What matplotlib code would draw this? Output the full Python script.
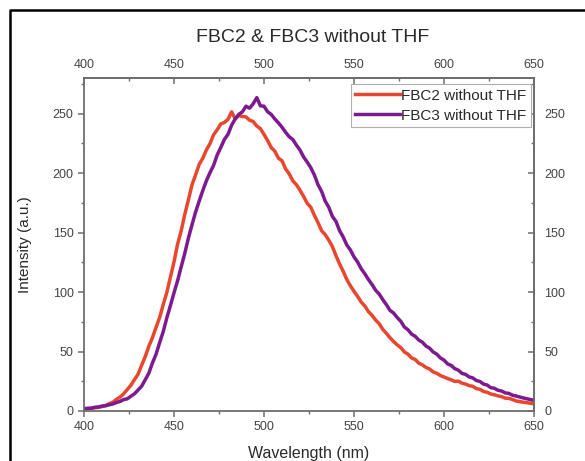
import numpy as np
import matplotlib
matplotlib.use('Agg')
from matplotlib import pyplot as plt
from matplotlib.lines import Line2D

plt.rcParams['font.family'] = ['Liberation Sans', 'DejaVu Sans']

# wavelength grid (nm), 2 nm step
wavelength = np.arange(400, 651, 2)

fbc2 = [1.5, 1.9, 2.0, 2.7, 3.0, 3.8, 4.6, 6.2, 7.3, 9.8,
        11.6, 14.4, 18.0, 21.5, 26.3, 30.8, 38.4, 45.6, 54.3, 61.6,
        70.2, 78.5, 89.4, 99.6, 112.5, 125.4, 140.3, 151.6, 165.4, 177.5,
        190.2, 198.6, 207.4, 212.5, 219.6, 224.8, 232.3, 236.5, 241.4, 242.6,
        245.3, 251.5, 245.6, 248.4, 247.6, 247.3, 244.5, 243.4, 239.6, 237.4,
        232.6, 227.4, 221.6, 218.5, 212.6, 210.4, 203.6, 199.4, 193.5, 190.3,
        185.6, 180.4, 174.6, 171.3, 164.5, 158.4, 151.6, 148.3, 143.6, 138.2,
        130.5, 123.6, 117.4, 110.6, 105.3, 100.6, 96.4, 91.6, 88.3, 83.6,
        80.4, 76.5, 73.4, 68.6, 65.3, 61.6, 58.4, 55.6, 53.3, 49.6,
        47.8, 44.6, 43.3, 40.2, 38.8, 36.6, 35.3, 32.8, 31.7, 29.8,
        28.6, 27.3, 26.2, 24.8, 25.1, 23.4, 22.6, 21.3, 20.7, 18.8,
        18.2, 16.4, 15.7, 14.3, 13.6, 12.7, 12.1, 10.8, 10.6, 9.7,
        8.4, 7.9, 7.4, 7.0, 6.5, 6.0]

fbc3 = [2.0, 2.3, 2.4, 3.1, 3.4, 4.1, 4.4, 5.2, 5.9, 7.1,
        8.0, 9.6, 10.2, 12.3, 14.4, 17.6, 20.8, 26.2, 31.7, 40.3,
        47.6, 57.4, 66.6, 78.3, 88.6, 99.4, 109.6, 121.3, 132.6, 145.4,
        156.6, 167.3, 176.5, 185.4, 193.6, 200.4, 206.6, 215.3, 221.6, 228.4,
        232.6, 240.3, 245.6, 249.4, 251.6, 256.3, 254.6, 258.4, 263.5, 256.6,
        256.3, 251.6, 249.4, 245.6, 242.3, 238.6, 234.4, 230.6, 228.3, 223.6,
        219.4, 213.6, 209.3, 204.6, 198.4, 190.3, 184.6, 176.5, 171.3, 163.6,
        159.4, 151.6, 146.3, 139.6, 135.4, 129.6, 125.3, 119.6, 115.4, 110.6,
        106.4, 101.6, 98.3, 93.6, 89.4, 84.6, 82.3, 78.6, 75.4, 70.6,
        68.3, 64.6, 62.8, 59.6, 57.8, 54.6, 52.8, 49.6, 47.8, 44.6,
        42.8, 39.6, 38.3, 35.6, 34.3, 31.6, 30.8, 28.6, 27.8, 25.6,
        24.8, 22.6, 21.8, 19.6, 19.1, 17.4, 16.8, 15.2, 14.8, 13.3,
        12.6, 11.8, 11.0, 10.3, 9.6, 9.0]

x_major = [400, 450, 500, 550, 600, 650]
x_minor = [425, 475, 525, 575, 625]
y_major = [0, 50, 100, 150, 200, 250]
y_minor = [25, 75, 125, 175, 225, 275]

fig = plt.figure(figsize=(5.85, 4.61), dpi=100)
ax = fig.add_axes([0.1436, 0.1085, 0.7692, 0.7223])

ax.plot(wavelength, fbc2, color='#e8472e', lw=2.5, label='FBC2 without THF')
ax.plot(wavelength, fbc3, color='#7d1a8f', lw=2.5, label='FBC3 without THF')

ax.set_xlim(400, 650)
ax.set_ylim(0, 280)
ax.set_xticks(x_major)
ax.set_xticks(x_minor, minor=True)
ax.set_yticks(y_major)
ax.set_yticks(y_minor, minor=True)

frame = '#6e6e6e'
lab = '#444444'
fs_tick = 9

for s in ax.spines.values():
    s.set_color(frame)
    s.set_linewidth(1.3)

ax.tick_params(which='both', direction='out', color=frame, labelcolor=lab,
               labelsize=fs_tick, top=False, right=False)
ax.tick_params(which='major', length=4.5, width=1.1, pad=3)
ax.tick_params(which='minor', length=2.5, width=1.0)

top = ax.secondary_xaxis('top')
top.set_xticks(x_major)
top.set_xticks(x_minor, minor=True)
top.tick_params(which='both', direction='in', color=frame, labelcolor=lab,
                labelsize=fs_tick, pad=5)
top.tick_params(which='major', length=4.5, width=1.1)
top.tick_params(which='minor', length=2.5, width=1.0)
top.spines['top'].set_color(frame)
top.spines['top'].set_linewidth(1.3)

right = ax.secondary_yaxis('right')
right.set_yticks(y_major)
right.set_yticks(y_minor, minor=True)
right.tick_params(which='both', direction='in', color=frame, labelcolor=lab,
                  labelsize=fs_tick, pad=7.5)
right.tick_params(which='major', length=4.5, width=1.1)
right.tick_params(which='minor', length=2.5, width=1.0)
right.spines['right'].set_color(frame)
right.spines['right'].set_linewidth(1.3)

ax.set_xlabel('Wavelength (nm)', fontsize=11.5, color='#2a2a2a', labelpad=9)
ax.set_ylabel('Intensity (a.u.)', fontsize=11, color='#2a2a2a', labelpad=15)
fig.text(0.535, 0.918, 'FBC2 & FBC3 without THF', ha='center', va='center',
         fontsize=14, color='#2a2a2a')

leg = ax.legend(loc='upper right', bbox_to_anchor=(0.9933, 0.982), borderaxespad=0,
                fontsize=11, handlelength=2.9, handletextpad=0.1, labelspacing=0.4,
                borderpad=0.3, fancybox=False, framealpha=1)
leg.get_frame().set_edgecolor('#b0b0b0')
leg.get_frame().set_linewidth(0.8)
for t in leg.get_texts():
    t.set_color('#2a2a2a')

# outer border (left and top only visible)
bx = 10 / 585
by = 1 - 10 / 461
fig.add_artist(Line2D([bx, bx, 0.999], [0.001, by, by], transform=fig.transFigure,
                      color='black', lw=1.8))

plt.savefig('out.png', dpi=100)
